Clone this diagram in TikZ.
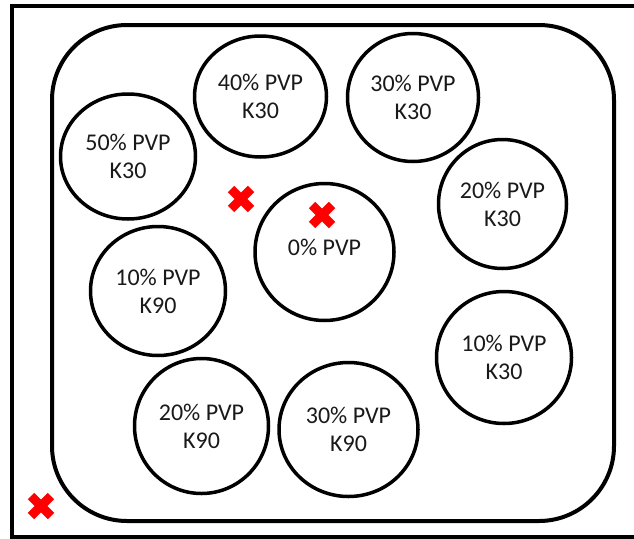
\documentclass[tikz,border=0pt]{standalone}
\usepackage{fontspec}
\setmainfont{Carlito}
\usetikzlibrary{shapes.geometric}
\begin{document}
\begin{tikzpicture}[x=1pt,y=-1pt,
  frame/.style={draw, line width=4pt},
  disc/.style={draw, line width=3.5pt, ellipse, inner sep=0pt, align=center,
    text=black!90, font=\fontsize{24}{28}\selectfont},
  redx/.pic={\draw[red, line width=9pt] (-10,-10) -- (10,10) (-10,10) -- (10,-10);}]
\useasboundingbox (0,0) rectangle (634,538);
\clip (0,0) rectangle (634,538);
% outer frame and rounded tray
\draw[frame] (12,6) rectangle (660,537);
\draw[frame, rounded corners=75pt] (52,25) rectangle (614,521);
% sample wells
\node[disc, minimum width=132pt, minimum height=121pt] (p40k30) at (260.5,96.5) {40\% PVP\\K30};
\node[disc, minimum width=131pt, minimum height=128pt] (p30k30) at (413,97.5) {30\% PVP\\K30};
\node[disc, minimum width=135pt, minimum height=125pt] (p50k30) at (128,156.5) {50\% PVP\\K30};
\node[disc, minimum width=128pt, minimum height=129pt] (p20k30) at (502.5,204) {20\% PVP\\K30};
\node[disc, minimum width=139pt, minimum height=137pt] (p0) at (324.5,252) {\raisebox{5pt}[\height][\depth]{0\% PVP}};
\node[disc, minimum width=135pt, minimum height=129pt] (p10k90) at (158,291) {10\% PVP\\K90};
\node[disc, minimum width=135pt, minimum height=132pt] (p10k30) at (504,357.5) {10\% PVP\\K30};
\node[disc, minimum width=134pt, minimum height=135pt] (p20k90) at (201.5,426) {20\% PVP\\K90};
\node[disc, minimum width=139pt, minimum height=134pt] (p30k90) at (348.5,429.5) {30\% PVP\\K90};
% marks
\pic at (322,215) {redx};
\pic at (241,199) {redx};
\pic at (41,506) {redx};
\end{tikzpicture}
\end{document}
